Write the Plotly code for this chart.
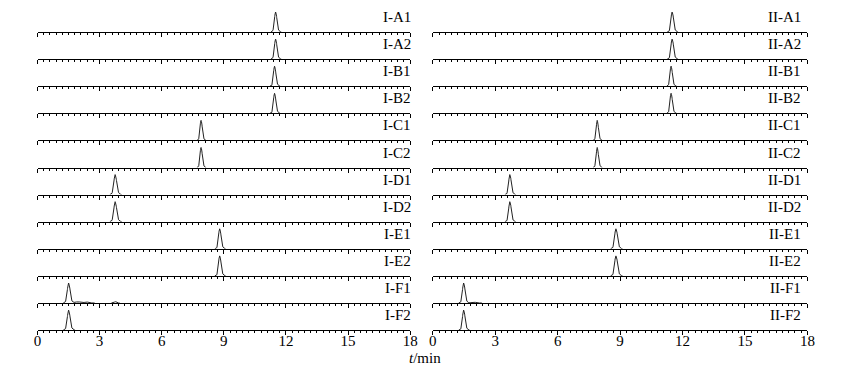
import numpy as np
import plotly.graph_objects as go

# ---------------- data ----------------
left_labels = ["I-A1", "I-A2", "I-B1", "I-B2", "I-C1", "I-C2",
               "I-D1", "I-D2", "I-E1", "I-E2", "I-F1", "I-F2"]
right_labels = ["II-A1", "II-A2", "II-B1", "II-B2", "II-C1", "II-C2",
                "II-D1", "II-D2", "II-E1", "II-E2", "II-F1", "II-F2"]

# main peak retention time (min), relative height, relative width
left_rt = [11.50, 11.50, 11.45, 11.45, 7.90, 7.90, 3.75, 3.75, 8.80, 8.80, 1.50, 1.50]
left_h = [1.00, 1.00, 1.00, 1.00, 1.00, 1.00, 1.00, 1.00, 1.00, 1.00, 1.00, 1.00]
left_w = [1.00, 1.00, 1.00, 1.00, 0.90, 0.90, 1.15, 1.15, 1.05, 1.05, 1.15, 1.15]
right_rt = [11.50, 11.50, 11.45, 11.45, 7.90, 7.90, 3.70, 3.70, 8.80, 8.80, 1.48, 1.48]
right_h = [1.00, 1.00, 1.00, 1.00, 1.00, 1.00, 1.00, 1.00, 1.00, 1.00, 1.00, 1.00]
right_w = [1.05, 1.05, 0.95, 0.95, 0.90, 0.90, 1.05, 1.05, 1.15, 1.15, 1.05, 1.05]

# small extra signals: (panel, row, rt, height, width)
minor_peaks = [("L", 10, 1.95, 0.06, 2.0), ("L", 10, 2.35, 0.05, 1.5),
               ("L", 10, 3.75, 0.07, 0.8), ("R", 10, 1.95, 0.05, 1.5)]

# shared peak profile (time offset in min, relative intensity)
profile_dt = [-0.22, -0.13, -0.07, -0.03, 0.00, 0.04, 0.08, 0.13, 0.19, 0.27]
profile_rel = [0.00, 0.05, 0.40, 0.90, 1.00, 0.88, 0.45, 0.12, 0.03, 0.00]

x_ticks = [0, 3, 6, 9, 12, 15, 18]
x_label = "<i>t</i>/min"

# ---------------- figure ----------------
W, H = 843, 374
SERIF = "Times New Roman, Liberation Serif, serif"
n_rows = 12
base0, step, row_h = 32.0, 27.1, 24.0
panels = {"L": (34 / W, 412 / W), "R": (435 / W, 815 / W)}
label_right = {"L": 412 / W, "R": 811 / W}

grid = np.linspace(0, 18, 3601)
pdt = np.array(profile_dt)
prel = np.array(profile_rel)


def signal(peaks):
    y = np.zeros_like(grid)
    for rt, h, w in peaks:
        y += h * np.interp(grid - rt, pdt * w, prel, left=0, right=0)
    # keep only the parts that leave the baseline (baseline drawn by the axis line)
    on = y > 0
    keep = on | np.roll(on, 1) | np.roll(on, -1)
    return np.where(keep, y, np.nan)


fig = go.Figure()
layout = dict(width=W, height=H, margin=dict(l=0, r=0, t=0, b=0),
              paper_bgcolor="white", plot_bgcolor="white", showlegend=False,
              font=dict(family=SERIF, size=14, color="black"))
annotations = []
ax_i = 0
for pkey, labels, rts, hs, ws in [("L", left_labels, left_rt, left_h, left_w),
                                  ("R", right_labels, right_rt, right_h, right_w)]:
    for r in range(n_rows):
        ax_i += 1
        sfx = "" if ax_i == 1 else str(ax_i)
        peaks = [(rts[r], hs[r], ws[r])]
        peaks += [(m[2], m[3], m[4]) for m in minor_peaks if m[0] == pkey and m[1] == r]
        fig.add_trace(go.Scatter(x=grid, y=signal(peaks), mode="lines",
                                 line=dict(color="#222", width=1), connectgaps=False,
                                 xaxis="x" + sfx, yaxis="y" + sfx, hoverinfo="skip"))
        b = base0 + step * r
        ydom = [1 - b / H, 1 - (b - row_h) / H]
        last = r == n_rows - 1
        layout["xaxis" + sfx] = dict(
            domain=list(panels[pkey]), range=[0, 18], anchor="y" + sfx,
            showline=True, linecolor="black", linewidth=1, showgrid=False, zeroline=False,
            tickmode="array", tickvals=x_ticks, ticks="outside", ticklen=4, tickwidth=1,
            tickcolor="black", showticklabels=last, ticklabelstandoff=-7,
            tickfont=dict(family=SERIF, size=15, color="black"),
            minor=dict(dtick=0.3, tick0=0, ticks="outside", ticklen=2, tickwidth=1, tickcolor="black"),
        )
        layout["yaxis" + sfx] = dict(domain=ydom, range=[0, 1.2], anchor="x" + sfx, visible=False)
        annotations.append(dict(x=label_right[pkey], y=1 - (b - 15) / H, xref="paper", yref="paper",
                                text=labels[r], showarrow=False, xanchor="right", yanchor="middle",
                                xshift=3 if pkey == "L" else 0,
                                font=dict(family=SERIF, size=15, color="black")))

annotations.append(dict(x=427 / W, y=1 - 358 / H, xref="paper", yref="paper", text=x_label,
                        showarrow=False, xanchor="center", yanchor="middle",
                        font=dict(family=SERIF, size=15, color="black")))
layout["annotations"] = annotations
fig.update_layout(**layout)
fig.write_html("out.html")
